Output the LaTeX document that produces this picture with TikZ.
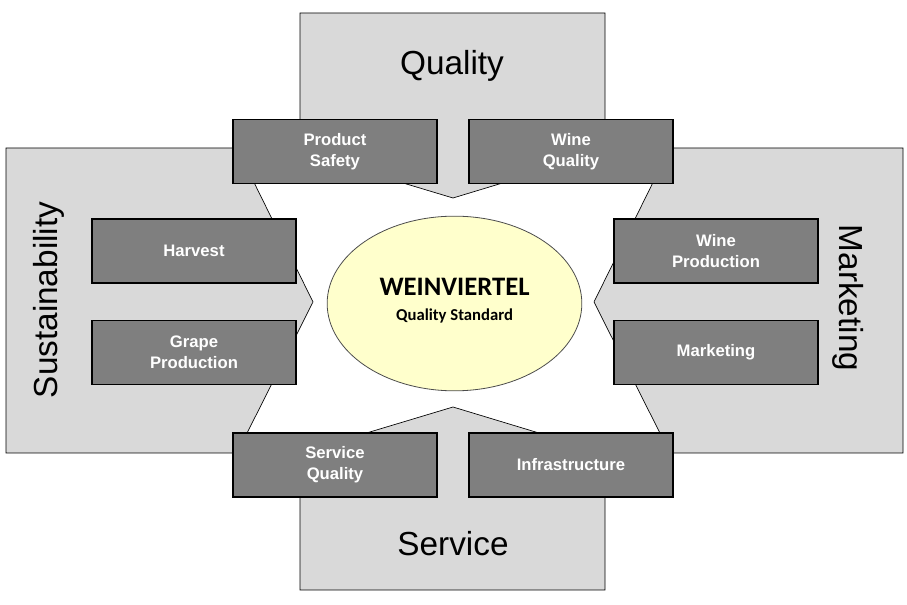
\documentclass[tikz,border=0pt]{standalone}
\usepackage{fontspec}
\setmainfont{Liberation Sans}
\newfontfamily\calibrifont{Carlito}
\usepackage{xcolor}
\usepackage{tikz}
\usetikzlibrary{shapes.geometric}

\definecolor{panelgray}{RGB}{217,217,217}
\definecolor{boxgray}{RGB}{127,127,127}
\definecolor{paleyellow}{RGB}{255,255,204}

\begin{document}
\begin{tikzpicture}[x=0.75pt, y=-0.75pt,
    panel/.style={fill=panelgray, draw=black, line width=0.5pt},
    topic/.style={fill=boxgray, draw=black, line width=0.8pt, text=white,
        font=\fontsize{12.5}{15.75}\selectfont\bfseries, align=center,
        minimum width=153pt, minimum height=48pt, inner sep=0pt},
    pillar/.style={font=\fontsize{25}{30}\selectfont, anchor=base}]
        \useasboundingbox (0,0) rectangle (907,605);
        % the four pillars
        \draw[panel] (300,13) -- (605,13) -- (605,152) -- (453,198) -- (300,152) -- cycle;
        \draw[panel] (300,590) -- (605,590) -- (605,453) -- (453,407) -- (300,453) -- cycle;
        \draw[panel] (6,148) -- (237,148) -- (313,302) -- (237,453) -- (6,453) -- cycle;
        \draw[panel] (903,148) -- (670,148) -- (594,302) -- (670,453) -- (903,453) -- cycle;
        \node[pillar] (quality) at (452,75) {Quality};
        \node[pillar] (service) at (453,556) {Service};
        \node[pillar, rotate=90] (sustain) at (57,300) {Sustainability};
        \node[pillar, rotate=-90] (market) at (839,298) {Marketing};
        % topics
        \node[topic] (safety) at (335,151.5) {Product\\Safety};
        \node[topic] (winequal) at (571,151.5) {Wine\\Quality};
        \node[topic] (harvest) at (194,251) {Harvest};
        \node[topic] (grape) at (194,352.5) {Grape\\Production};
        \node[topic] (wineprod) at (716,251) {Wine\\Production};
        \node[topic] (marketing) at (716,352.5) {Marketing};
        \node[topic] (servqual) at (335,465) {Service\\Quality};
        \node[topic] (infra) at (571,465) {Infrastructure};
        % centre
        \node[ellipse, fill=paleyellow, draw=black!70, line width=0.6pt,
            minimum width=191pt, minimum height=131pt] (standard) at (454.5,303.5) {};
        \node[anchor=base, font=\calibrifont\fontsize{20}{24}\selectfont\bfseries] (title) at (454.5,296) {WEINVIERTEL};
        \node[anchor=base, font=\calibrifont\fontsize{12.5}{15}\selectfont\bfseries] (subtitle) at (454.5,321) {Quality Standard};
\end{tikzpicture}
\end{document}
